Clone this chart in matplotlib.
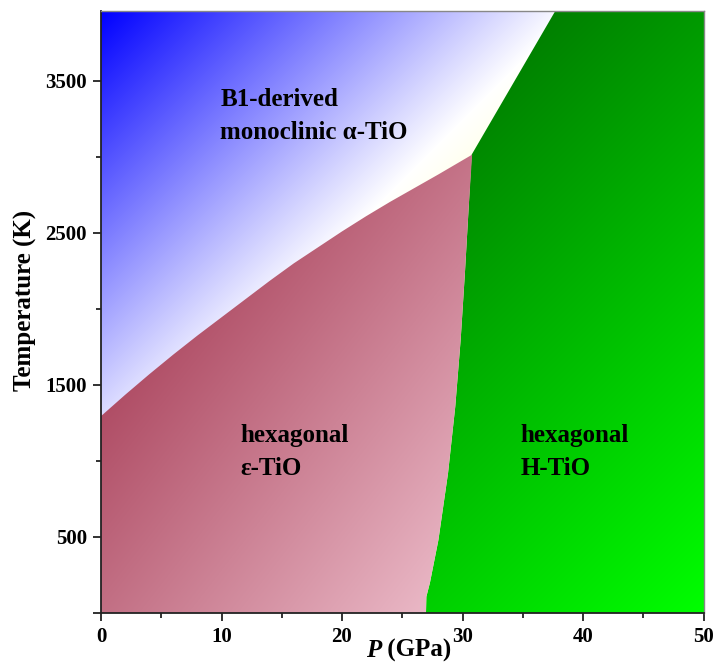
import numpy as np
import matplotlib
matplotlib.use('Agg')
import matplotlib.pyplot as plt
from matplotlib.patches import Polygon
from matplotlib.ticker import FixedLocator

# ---------------- data ----------------
P_MIN, P_MAX = 0, 50
T_MIN, T_MAX = 0, 3960

# epsilon / alpha boundary
ea_P = [0, 2, 4, 6, 8, 10, 12, 14, 16, 18, 20, 22, 24, 26, 28, 30.8]
ea_T = [1295, 1435, 1570, 1700, 1825, 1945, 2065, 2185, 2300, 2405, 2510, 2610, 2705, 2795, 2885, 3015]
# epsilon / H boundary (bottom to triple point)
eH_P = [26.97, 27.0, 27.3, 28.0, 28.8, 29.4, 29.85, 30.2, 30.5, 30.76]
eH_T = [0, 107, 200, 480, 920, 1358, 1800, 2236, 2650, 3015]
# alpha / H boundary (triple point to top)
aH_P = [30.76, 37.7]
aH_T = [3015, 3960]

x_major = [0, 10, 20, 30, 40, 50]
x_minor = [5, 15, 25, 35, 45]
y_major = [0, 500, 1500, 2500, 3500]
y_major_labels = ['', '500', '1500', '2500', '3500']
y_minor = [1000, 2000, 3000]

labels = [
    ("B1-derived", 9.9, 3338),
    ("monoclinic \u03b1-TiO", 9.9, 3120),
    ("hexagonal", 11.6, 1128),
    ("\u03b5-TiO", 11.6, 908),
    ("hexagonal", 34.8, 1128),
    ("H-TiO", 34.8, 908),
]

# ---------------- figure ----------------
W, H = 721, 662
fig = plt.figure(figsize=(W / 100, H / 100), dpi=100)
ax_l, ax_b = 101 / W, (H - 613) / H
ax_w, ax_h = (703.5 - 101) / W, (613 - 11) / H
ax = fig.add_axes([ax_l, ax_b, ax_w, ax_h])
ax.set_xlim(P_MIN, P_MAX)
ax.set_ylim(T_MIN, T_MAX)

# pixel grid for gradients
nx, ny = 603, 602
X = 101 + np.arange(nx)[None, :] * np.ones((ny, 1))
Y = 11 + np.arange(ny)[:, None] * np.ones((1, nx))
ext = [P_MIN, P_MAX, T_MIN, T_MAX]

# green (H) gradient
s = X + Y
t = np.clip((s - 568) / 749, 0, 1)
green = np.zeros((ny, nx, 3))
green[..., 1] = (128 + 127 * t) / 255

# alpha gradient: blue -> white -> ivory
s2 = (X - 101) + (Y - 11)
t1 = np.clip(s2 / 470, 0, 1)
blue = np.array([0, 0, 255]) / 255
white = np.array([255, 255, 255]) / 255
ivory = np.array([255, 255, 222]) / 255
alpha_img = blue * (1 - t1[..., None]) + white * t1[..., None]
t2 = np.clip((s2 - 470) / 90, 0, 1)[..., None]
alpha_img = alpha_img * (1 - t2) + ivory * t2

# epsilon gradient: dark rose -> light pink
f = np.clip(0.0021 * (X - 101) + 0.00163 * (Y - 418), 0, 1)[..., None]
dark = np.array([176, 78, 102]) / 255
light = np.array([234, 184, 198]) / 255
eps_img = dark * (1 - f) + light * f

# base green
ax.imshow(green, extent=ext, aspect='auto', origin='upper', zorder=1,
          interpolation='bilinear')

# alpha (covers everything left of the H boundary)
left_poly = ([(P_MIN, T_MIN)] + list(zip(eH_P, eH_T)) + list(zip(aH_P, aH_T))[1:]
             + [(P_MIN, T_MAX)])
pa = Polygon(left_poly, closed=True, transform=ax.transData)
im_a = ax.imshow(alpha_img, extent=ext, aspect='auto', origin='upper', zorder=2,
                 interpolation='bilinear')
im_a.set_clip_path(pa)

# epsilon
eps_poly = ([(P_MIN, T_MIN)] + list(zip(ea_P, ea_T)) + list(zip(eH_P, eH_T))[::-1][1:])
pe = Polygon(eps_poly, closed=True, transform=ax.transData)
im_e = ax.imshow(eps_img, extent=ext, aspect='auto', origin='upper', zorder=3,
                 interpolation='bilinear')
im_e.set_clip_path(pe)

# ---------------- text ----------------
for txt, px, ty in labels:
    ax.text(px, ty, txt, fontsize=18, fontweight='bold', family='Liberation Serif',
            ha='left', va='baseline', zorder=5)

# ---------------- axes styling ----------------
ax.xaxis.set_major_locator(FixedLocator(x_major))
ax.xaxis.set_minor_locator(FixedLocator(x_minor))
ax.set_xticklabels([str(v) for v in x_major])
ax.yaxis.set_major_locator(FixedLocator(y_major))
ax.yaxis.set_minor_locator(FixedLocator(y_minor))
ax.set_yticklabels(y_major_labels)

for lab in ax.get_xticklabels() + ax.get_yticklabels():
    lab.set_fontfamily('Liberation Serif')
    lab.set_fontweight('bold')
    lab.set_fontsize(15)

ax.tick_params(which='major', direction='out', length=6, width=1.3, pad=4, color='#222222')
ax.tick_params(which='minor', direction='out', length=3.5, width=1.3, color='#222222')

for side in ['left', 'bottom']:
    ax.spines[side].set_color('#222222')
    ax.spines[side].set_linewidth(1.3)
for side in ['top', 'right']:
    ax.spines[side].set_color('#888888')
    ax.spines[side].set_linewidth(1.0)
for sp in ax.spines.values():
    sp.set_zorder(6)

ax.set_ylabel('Temperature (K)', fontsize=18, fontweight='bold',
              family='Liberation Serif')
ax.yaxis.set_label_coords(-0.106, 0.52)

# x label with italic P
lbl_y = ax_b - 0.043 * ax_h
t1_ = fig.text(0, lbl_y, 'P', fontsize=18, fontweight='bold', fontstyle='italic',
               family='Liberation Serif', ha='left', va='top')
t2_ = fig.text(0, lbl_y, ' (GPa)', fontsize=18, fontweight='bold',
               family='Liberation Serif', ha='left', va='top')
fig.canvas.draw()
r = fig.canvas.get_renderer()
w1 = t1_.get_window_extent(r).width / W
w2 = t2_.get_window_extent(r).width / W
cx = ax_l + 0.51 * ax_w
x0 = cx - (w1 + w2) / 2
t1_.set_x(x0)
t2_.set_x(x0 + w1)

fig.savefig('out.png', dpi=100)
